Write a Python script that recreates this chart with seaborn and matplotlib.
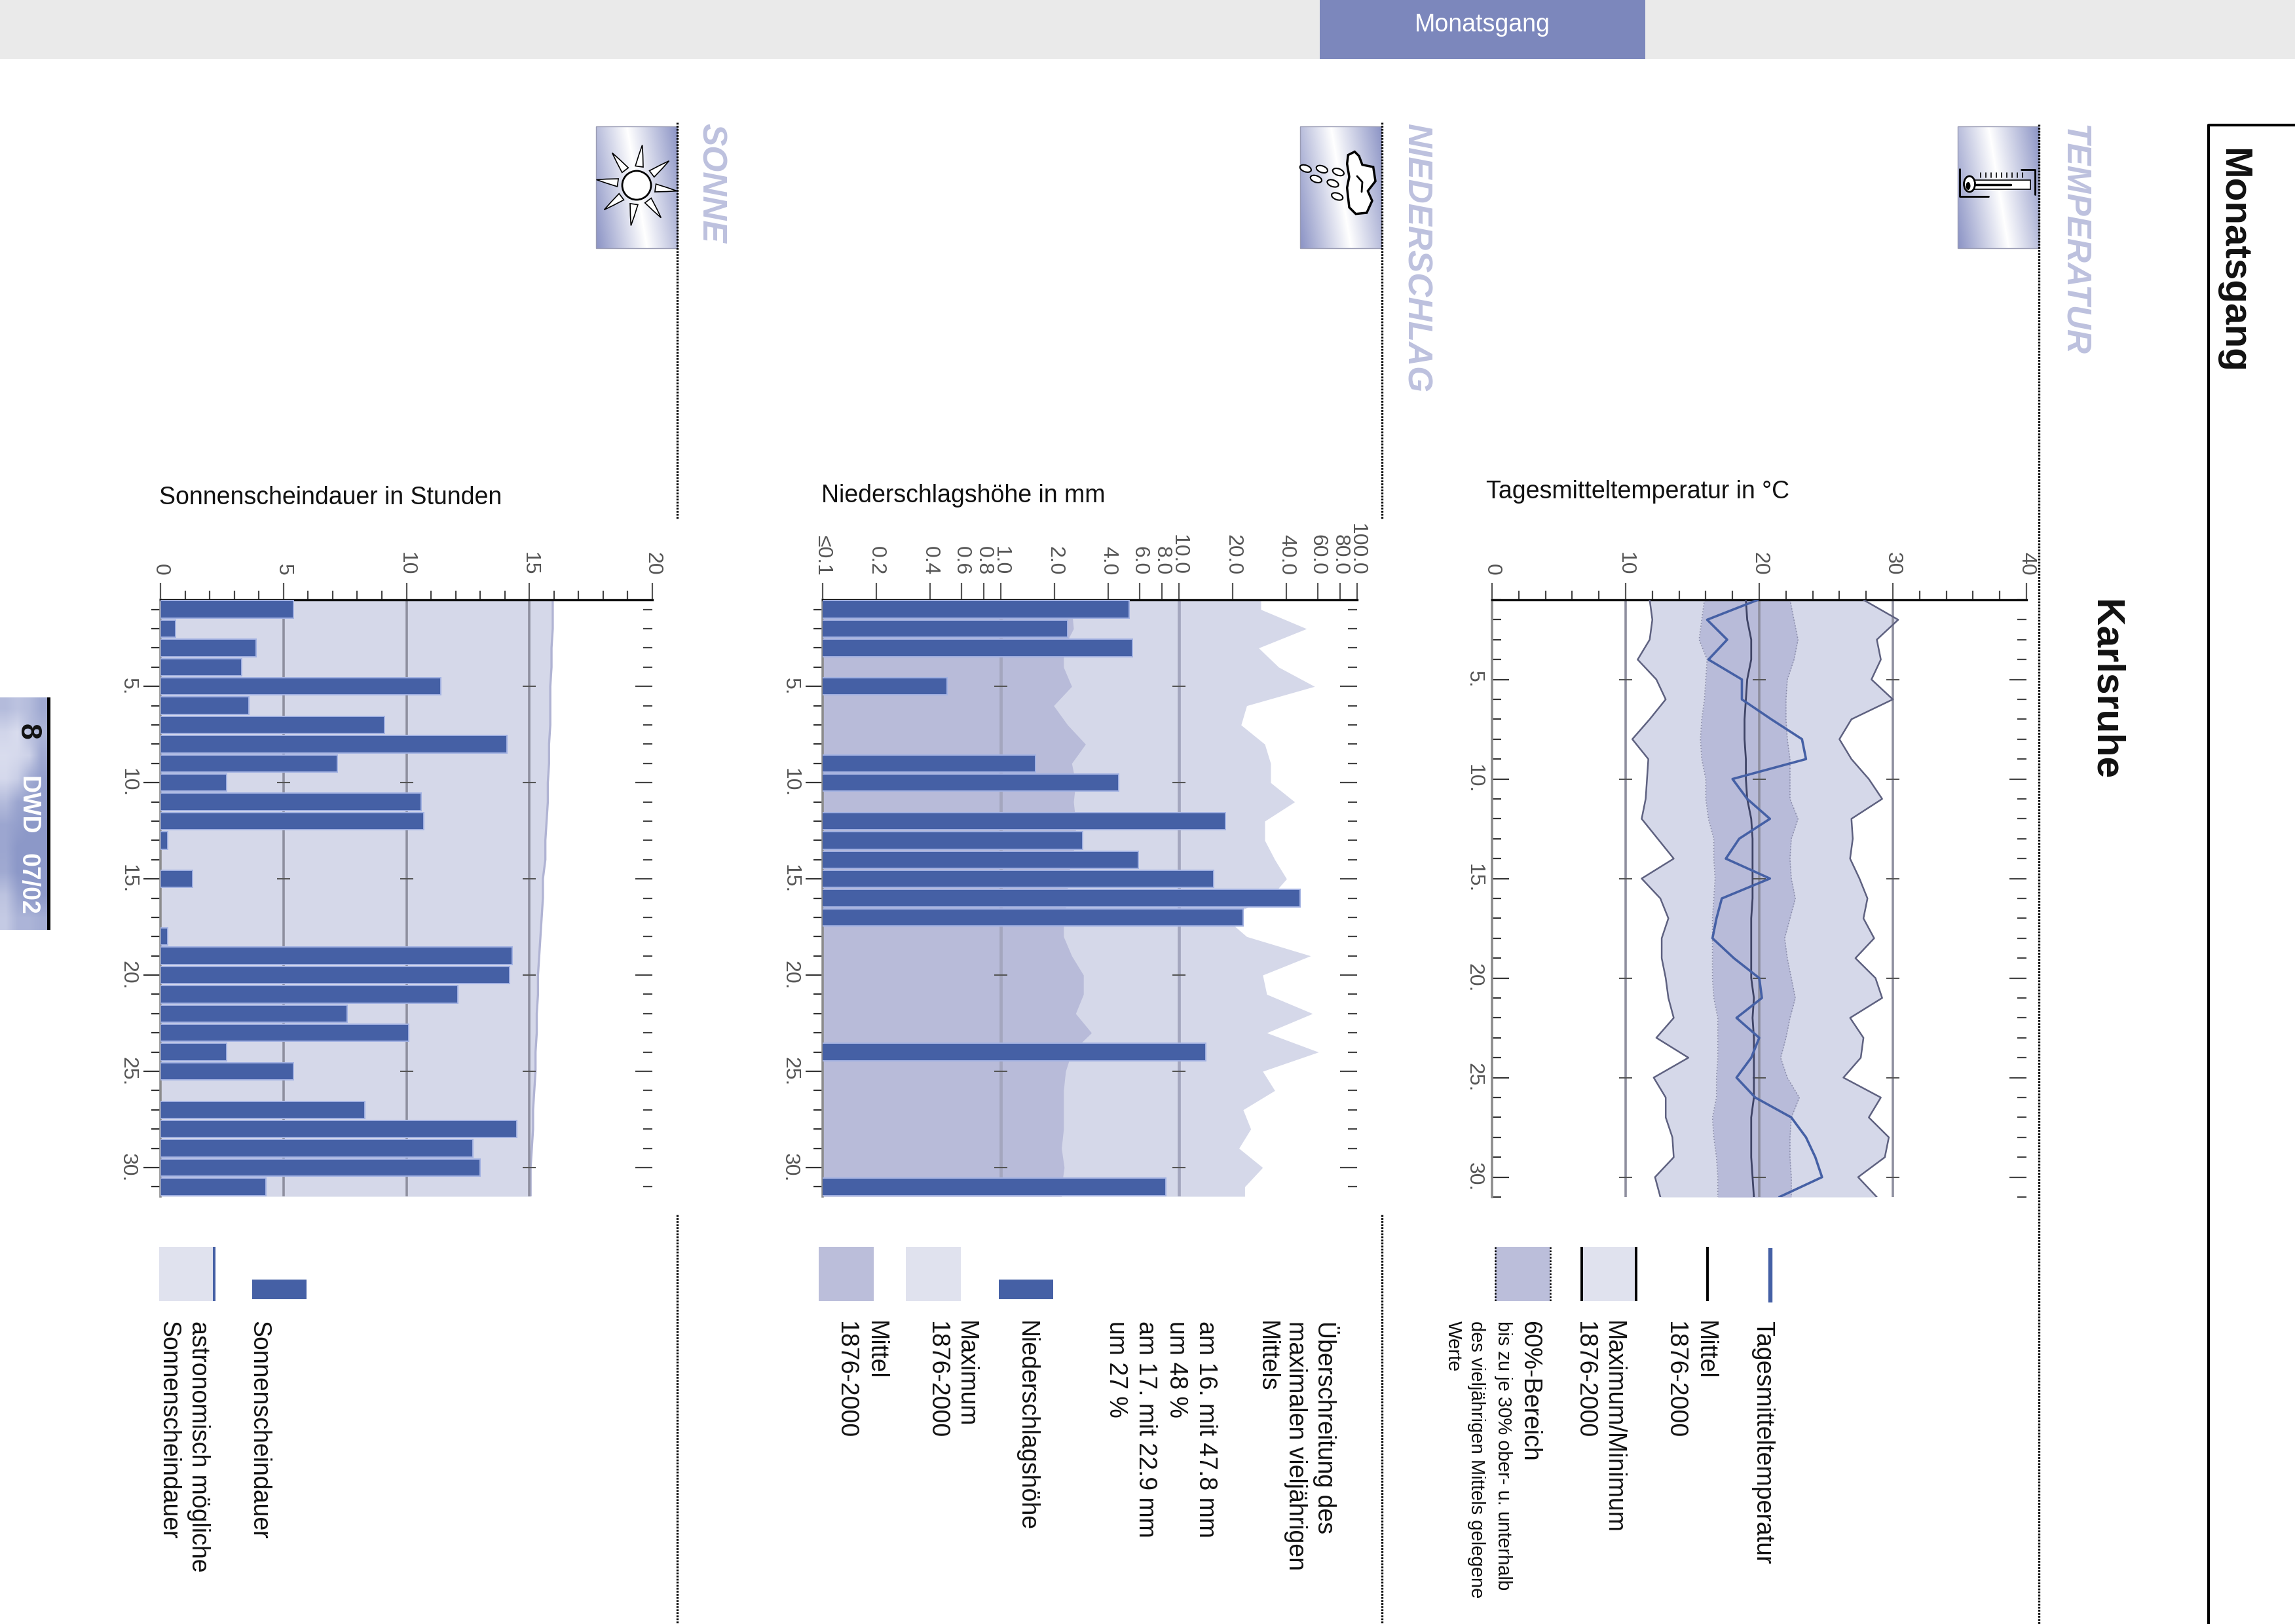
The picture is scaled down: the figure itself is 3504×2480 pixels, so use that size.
import numpy as np
import pandas as pd
import matplotlib
matplotlib.use('Agg')
import matplotlib.pyplot as plt
from matplotlib.colors import LinearSegmentedColormap
from matplotlib.patches import Circle, Ellipse, Polygon, Rectangle
import seaborn as sns

W, H = 3504, 2480

days = list(range(1, 32))
day_ticks = [5, 10, 15, 20, 25, 30]
day_labels = ['5.', '10.', '15.', '20.', '25.', '30.']

temp_max = [27.8, 30.4, 28.8, 29.1, 28.4, 30.0, 26.9, 26.0, 26.9, 28.2, 29.2, 26.9, 27.0, 26.8, 27.5, 28.1,
            27.8, 28.6, 27.2, 28.7, 29.2, 26.8, 27.8, 27.6, 26.3, 29.1, 28.2, 29.7, 29.4, 27.4, 28.8]
temp_min = [11.8, 12.0, 11.8, 10.9, 12.3, 13.0, 11.8, 10.5, 11.7, 11.6, 11.5, 11.2, 12.4, 13.6, 11.2, 12.6,
            13.2, 12.7, 12.7, 13.0, 13.2, 13.6, 12.3, 14.7, 12.1, 13.0, 13.0, 13.5, 13.6, 12.2, 12.6]
temp_low = [15.9, 15.7, 15.5, 16.1, 16.0, 15.9, 15.7, 15.6, 15.7, 16.0, 16.0, 16.2, 16.6, 16.6, 16.7, 16.6,
            16.5, 16.5, 16.5, 16.5, 16.6, 16.9, 16.9, 16.9, 16.8, 16.8, 16.5, 16.6, 16.8, 16.9, 16.9]
temp_high = [22.3, 22.6, 22.9, 22.6, 22.1, 22.0, 22.0, 22.1, 22.3, 22.3, 22.3, 22.9, 22.4, 22.3, 22.4, 22.7,
             22.3, 21.9, 22.1, 22.4, 22.7, 22.3, 22.0, 21.6, 22.1, 23.0, 22.4, 22.3, 22.3, 22.4, 22.4]
temp_mean = [19.0, 19.1, 19.4, 19.4, 19.1, 19.0, 18.9, 18.9, 19.0, 19.0, 19.1, 19.4, 19.5, 19.5, 19.5, 19.5,
             19.4, 19.4, 19.4, 19.4, 19.6, 19.5, 19.6, 19.6, 19.6, 19.6, 19.4, 19.4, 19.4, 19.5, 19.6]
temp_day = [19.9, 16.1, 17.6, 16.2, 18.7, 18.7, 20.9, 23.2, 23.5, 18.0, 19.1, 20.8, 18.5, 17.5, 20.8, 17.2,
            16.8, 16.5, 18.1, 20.0, 20.2, 18.3, 20.0, 19.4, 18.3, 19.7, 22.4, 23.5, 24.2, 24.7, 21.5]

rain = [5.27, 2.37, 5.46, 0, 0.498, 0, 0, 0, 1.57, 4.58, 0, 18.3, 2.88, 5.90, 15.7, 47.8,
        22.9, 0, 0, 0, 0, 0, 0, 14.2, 0, 0, 0, 0, 0, 0, 8.41]
rain_max = [28.8, 52.0, 28.0, 36.3, 57.7, 24.0, 22.3, 30.3, 32.7, 32.7, 44.6, 30.3, 30.3, 34.5, 40.2, 32.3,
            18.0, 24.0, 54.8, 29.5, 31.1, 56.2, 31.1, 60.7, 29.5, 34.5, 22.9, 25.3, 21.7, 29.5, 23.4]
rain_mean = [2.5, 2.56, 2.25, 2.25, 2.5, 1.98, 2.37, 2.99, 2.5, 2.63, 2.56, 2.63, 2.63, 2.5, 2.37, 2.37,
             2.25, 2.25, 2.5, 2.91, 2.91, 2.63, 3.23, 2.5, 2.31, 2.25, 2.25, 2.25, 2.19, 2.27, 2.19]
rain_ticks = [0.1, 0.2, 0.4, 0.6, 0.8, 1, 2, 4, 6, 8, 10, 20, 40, 60, 80, 100]
rain_labels = ['≤0.1', '0.2', '0.4', '0.6', '0.8', '1.0', '2.0', '4.0', '6.0', '8.0',
               '10.0', '20.0', '40.0', '60.0', '80.0', '100.0']

sun = [5.4, 0.6, 3.9, 3.3, 11.4, 3.6, 9.1, 14.1, 7.2, 2.7, 10.6, 10.7, 0.3, 0, 1.3, 0,
       0, 0.3, 14.3, 14.2, 12.1, 7.6, 10.1, 2.7, 5.4, 0, 8.3, 14.5, 12.7, 13.0, 4.3]
sun_astro = [15.95, 15.95, 15.9, 15.9, 15.85, 15.85, 15.85, 15.8, 15.8, 15.75, 15.75, 15.7, 15.65, 15.65, 15.55, 15.55,
             15.5, 15.45, 15.4, 15.35, 15.35, 15.3, 15.3, 15.25, 15.25, 15.2, 15.15, 15.15, 15.1, 15.05, 15.05]

BLUE = '#4560A5'
HALO = '#A3B2E2'
LIGHT = '#D5D8E9'
MID = '#B8BBD9'
SWATCH_LIGHT = '#E0E2EE'
SWATCH_MID = '#BBBEDA'
HEAD = '#BDC1DE'
GRID = '#8E8F9F'
TICK_TXT = '#555555'

sns.set_theme(style='white')
plt.rcParams['font.family'] = ['Liberation Sans', 'DejaVu Sans']


def px_axes(x0, x1, y0, y1):
    return fig.add_axes([x0 / W, 1 - y1 / H, (x1 - x0) / W, (y1 - y0) / H], facecolor='none')


def pad_ends(values, lo, hi):
    # fills run on to the frame at both ends
    return np.r_[lo, days, hi], np.r_[values[0], values, values[-1]]


def style_chart(ax, lo, hi, xticks, xlabels, grid, ticks_in, minor=None, grid_color=GRID, grid_lw=2.6):
    ax.set_ylim(hi, lo)
    ax.xaxis.tick_top()
    ax.set_xticks(xticks)
    ax.set_xticklabels(xlabels)
    if minor is not None:
        ax.set_xticks(minor, minor=True)
    else:
        ax.xaxis.set_minor_locator(matplotlib.ticker.NullLocator())
    ax.set_yticks(day_ticks)
    ax.set_yticklabels(day_labels)
    ax.set_yticks(days, minor=True)
    ax.set_xlabel('')
    ax.set_ylabel('')
    ax.grid(False)
    for name in ['bottom', 'right']:
        ax.spines[name].set_visible(False)
    ax.spines['top'].set_linewidth(2.4)
    ax.spines['top'].set_color('#111111')
    ax.spines['left'].set_linewidth(2.6)
    ax.spines['left'].set_color('#8C8C8C')
    ax.spines['left'].set_zorder(2.5)
    ax.tick_params(axis='x', which='major', top=True, bottom=False, length=19, width=1.6, color='#555555',
                   pad=8, labelsize=23, labelcolor=TICK_TXT)
    ax.tick_params(axis='x', which='minor', top=True, bottom=False, length=10, width=1.6, color='#444444')
    direction = 'in' if ticks_in else 'out'
    ax.tick_params(axis='y', which='major', left=True, length=19, width=1.6, color='#333333', direction=direction,
                   pad=9 if ticks_in else 6, labelsize=23, labelcolor=TICK_TXT)
    ax.tick_params(axis='y', which='minor', left=True, length=10, width=1.6, color='#333333', direction=direction)
    plt.setp(ax.get_xticklabels(), rotation=-90, ha='center', va='bottom')
    plt.setp(ax.get_yticklabels(), rotation=-90, ha='right', va='center')

    right = ax.secondary_yaxis('right')
    right.set_yticks(day_ticks)
    right.set_yticklabels([])
    right.set_yticks(days, minor=True)
    right.spines['right'].set_visible(False)
    right.tick_params(axis='y', which='major', direction='in', length=19, width=1.6, color='#444444')
    right.tick_params(axis='y', which='minor', direction='in', length=10, width=1.6, color='#444444')

    for g in grid:
        ax.axvline(g, color=grid_color, lw=grid_lw, zorder=2)
        ax.plot([g] * len(day_ticks), day_ticks, ls='', marker='_', ms=15, mew=1.5, color='#555555', zorder=2.2)


fig = plt.figure(figsize=(W / 100, H / 100), dpi=100, facecolor='white')

page = fig.add_axes([0, 0, 1, 1], zorder=0)
page.set_xlim(0, W)
page.set_ylim(H, 0)
page.axis('off')


def rtext(x, y, s, size=27, color='#111111', **kw):
    page.text(x - 4, y, s, rotation=-90, ha='center', va='top', fontsize=size, color=color, **kw)


def box(x0, x1, y0, y1, color, **kw):
    page.add_patch(Rectangle((x0, y0), x1 - x0, y1 - y0, facecolor=color, edgecolor='none', **kw))


# top band and page frame
box(0, W, 0, 90, '#EAEAEA')
box(2015, 2512, 0, 90, '#7C87BC')
page.text(2263, 38, 'Monatsgang', ha='center', va='center', color='white', fontsize=27)
page.plot([W, 3372, 3372], [191, 191, H], color='black', lw=3)
rtext(3413, 226, 'Monatsgang', size=42, weight='bold')
rtext(3218, 916, 'Karlsruhe', size=42.5, weight='bold')

# section heads
rtext(3170, 190, 'TEMPERATUR', size=37, color=HEAD, style='italic', weight='bold')
rtext(2166, 188, 'NIEDERSCHLAG', size=37, color=HEAD, style='italic', weight='bold')
rtext(1089, 188, 'SONNE', size=37, color=HEAD, style='italic', weight='bold')

# dotted rules
for x, segs in [(3113, [(190, H)]), (2110, [(187, 793), (1855, H)]), (1034, [(187, 793), (1855, H)])]:
    for y0, y1 in segs:
        page.plot([x, x], [y0, y1], color='black', lw=2.4, ls=(0, (0.8, 0.6)))

# icon backgrounds
icon_cmap = LinearSegmentedColormap.from_list('icon', ['#FFFFFF', '#8D95C6'])
uu, vv = np.meshgrid(np.linspace(0, 1, 124), np.linspace(0, 1, 186))
icon_shade = np.clip(np.abs(uu - (0.38 + 0.25 * vv)) / 0.62, 0, 1)
for x0 in [2989, 1985, 910]:
    page.imshow(icon_shade, extent=(x0, x0 + 124, 379, 193), cmap=icon_cmap, aspect='auto', vmin=0, vmax=1)
    page.add_patch(Rectangle((x0, 193), 124, 186, facecolor='none', edgecolor='#9A9CB4', lw=1))
page.set_xlim(0, W)
page.set_ylim(H, 0)

# thermometer
page.add_patch(Rectangle((3012, 275), 88, 14, facecolor='white', edgecolor='black', lw=1.2))
page.plot([3016, 3070], [282, 282], color='black', lw=2.5)
page.add_patch(Ellipse((3007, 281), 17, 24, facecolor='white', edgecolor='black', lw=2))
page.add_patch(Ellipse((3005, 284), 7, 12, facecolor='black', edgecolor='none'))
for x in range(3024, 3092, 8):
    page.plot([x, x], [264, 271], color='black', lw=1.2)
page.plot([2992, 2992, 3036], [258, 300, 300], color='black', lw=2)
page.plot([3086, 3107, 3107], [259, 259, 297], color='black', lw=2)

# cloud and drops
cloud = [(295, 200), (325, 185), (345, 205), (360, 245), (410, 255), (420, 320), (385, 365), (405, 410),
         (380, 465), (330, 470), (300, 440), (290, 350), (300, 300), (290, 240)]
page.add_patch(Polygon([(1960 + a / 3, 170 + b / 3) for a, b in cloud], facecolor='white', edgecolor='black', lw=2.5))
page.plot([2072, 2080, 2079], [269, 278, 293], color='black', lw=2)
for a, b in [(100, 262), (175, 265), (250, 278), (148, 310), (225, 330), (245, 390)]:
    page.add_patch(Ellipse((1960 + a / 3, 170 + b / 3), 18, 10, angle=20, facecolor='white', edgecolor='black', lw=1.5))

# sun
page.add_patch(Circle((972, 283), 22, facecolor='white', edgecolor='black', lw=2))
for ang in np.deg2rad(np.arange(0, 360, 45) + 8):
    c, s = np.cos(ang), np.sin(ang)
    page.add_patch(Polygon([(972 + 29 * c - 6 * s, 283 + 29 * s + 6 * c), (972 + 47 * c - 3 * s, 283 + 47 * s + 3 * c),
                            (972 + 62 * c, 283 + 62 * s), (972 + 47 * c + 3 * s, 283 + 47 * s - 3 * c),
                            (972 + 29 * c + 6 * s, 283 + 29 * s - 6 * c)],
                           facecolor='white', edgecolor='black', lw=1.2))

# page tab
tab_cells = [[0.5, 0.4, 0.5, 0.75], [0.15, 0.05, 0.45, 0.6], [0.05, 0.1, 0.2, 0.75], [0.1, 0.25, 0.7, 0.9],
             [0.5, 0.8, 0.9, 0.95], [0.8, 0.9, 1, 1], [0.8, 1, 1, 1], [0.75, 1, 1, 1], [0.4, 0.8, 1, 1], [0.3, 0.6, 0.6, 0.7]]
tab_cmap = LinearSegmentedColormap.from_list('tab', ['#DDE0F0', '#8C98C8'])
page.imshow(tab_cells, extent=(0, 72, 1420, 1065), cmap=tab_cmap, aspect='auto', vmin=0, vmax=1, interpolation='bilinear')
page.set_xlim(0, W)
page.set_ylim(H, 0)
box(72, 77, 1065, 1420, 'black')
rtext(46, 1105, '8', size=32, weight='bold')
rtext(46, 1185, 'DWD', size=27, color='white', weight='bold')
rtext(46, 1303, '07/02', size=27, color='white', weight='bold')

# chart titles
page.text(2269, 751, 'Tagesmitteltemperatur in °C', va='center', fontsize=27, color='#111111')
page.text(1254, 757, 'Niederschlagshöhe in mm', va='center', fontsize=27, color='#111111')
page.text(243, 760, 'Sonnenscheindauer in Stunden', va='center', fontsize=27, color='#111111')

# legend, temperature
page.plot([2703, 2703], [1906, 1989], color=BLUE, lw=4.6, solid_capstyle='butt')
page.plot([2607, 2607], [1904, 1987], color='black', lw=2.8, solid_capstyle='butt')
box(2415, 2498, 1904, 1987, SWATCH_LIGHT)
for x in [2415, 2498]:
    page.plot([x, x], [1904, 1987], color='black', lw=2.8, solid_capstyle='butt')
box(2283, 2367, 1904, 1987, SWATCH_MID)
for x in [2283, 2367]:
    page.plot([x, x], [1904, 1987], color='black', lw=1.8, ls=(0, (1, 1)))
rtext(2695, 2017, 'Tagesmitteltemperatur')
rtext(2607, 2017, 'Mittel')
rtext(2561, 2017, '1876-2000')
rtext(2467, 2017, 'Maximum/Minimum')
rtext(2423, 2017, '1876-2000')
rtext(2339, 2017, '60%-Bereich')
rtext(2299, 2017, 'bis zu je 30% ober- u. unterhalb', size=21)
rtext(2258, 2017, 'des vieljährigen Mittels gelegene', size=21)
rtext(2223, 2017, 'Werte', size=21)

# legend, precipitation
for x, s in [(2029, 'Überschreitung des'), (1982, 'maximalen vieljährigen'), (1938, 'Mittels'),
             (1845, 'am 16. mit 47.8 mm'), (1800, 'um 48 %'), (1753, 'am 17. mit 22.9 mm'), (1708, 'um 27 %'),
             (1571, 'Niederschlagshöhe'), (1478, 'Maximum'), (1434, '1876-2000'), (1341, 'Mittel'), (1295, '1876-2000')]:
    rtext(x, 2017, s)
box(1525, 1608, 1954, 1984, BLUE)
box(1383, 1467, 1904, 1987, SWATCH_LIGHT)
box(1250, 1334, 1904, 1987, SWATCH_MID)

# legend, sunshine
box(385, 468, 1954, 1984, BLUE)
box(243, 325, 1904, 1987, SWATCH_LIGHT)
box(325, 329, 1904, 1987, BLUE)
rtext(399, 2017, 'Sonnenscheindauer')
rtext(307, 2017, 'astronomisch mögliche')
rtext(261, 2017, 'Sonnenscheindauer')

# temperature chart
temp_df = pd.DataFrame({'day': days, 'tmax': temp_max, 'tmin': temp_min, 'low': temp_low,
                        'high': temp_high, 'mean': temp_mean, 'today': temp_day})
ax = px_axes(2278, 3094, 916, 1828)
ax.fill_betweenx(days, temp_min, temp_max, color=LIGHT, lw=0, zorder=1)
ax.fill_betweenx(days, temp_low, temp_high, color=MID, lw=0, zorder=1.1)
sns.lineplot(data=temp_df, x='low', y='day', orient='y', sort=False, estimator=None, color='#8A8CA8', lw=1.2, ls=':', ax=ax, zorder=1.5)
sns.lineplot(data=temp_df, x='high', y='day', orient='y', sort=False, estimator=None, color='#8A8CA8', lw=1.2, ls=':', ax=ax, zorder=1.5)
sns.lineplot(data=temp_df, x='tmax', y='day', orient='y', sort=False, estimator=None, color='#5E6180', lw=1.8, ax=ax, zorder=3)
sns.lineplot(data=temp_df, x='tmin', y='day', orient='y', sort=False, estimator=None, color='#5E6180', lw=1.8, ax=ax, zorder=3)
sns.lineplot(data=temp_df, x='mean', y='day', orient='y', sort=False, estimator=None, color='#3F4466', lw=2, ax=ax, zorder=3)
sns.lineplot(data=temp_df, x='today', y='day', orient='y', sort=False, estimator=None, color=BLUE, lw=2.6, ax=ax, zorder=4)
ax.set_xlim(0, 40)
style_chart(ax, 1, 31, [0, 10, 20, 30, 40], ['0', '10', '20', '30', '40'], [10, 20, 30], True, minor=list(range(0, 41, 2)))

# precipitation chart
rain_df = pd.DataFrame({'day': days, 'mm': rain})
rain_df = rain_df[rain_df['mm'] > 0]
ax = px_axes(1256, 2072, 916, 1827)
yy, vals = pad_ends(rain_max, 0.5, 31.5)
ax.fill_betweenx(yy, 0.1, vals, color=LIGHT, lw=0, zorder=1)
yy, vals = pad_ends(rain_mean, 0.5, 31.5)
ax.fill_betweenx(yy, 0.1, vals, color=MID, lw=0, zorder=1.1)
sns.barplot(data=rain_df, x='mm', y='day', orient='y', native_scale=True, log_scale=(True, False), color=BLUE, saturation=1,
            width=0.9, edgecolor=HALO, linewidth=1.4, ax=ax, zorder=3)
ax.set_xscale('log')
ax.set_xlim(0.1, 100)
style_chart(ax, 0.5, 31.5, rain_ticks, rain_labels, [1, 10], False, grid_color='#A4A6BE', grid_lw=3.4)

# sunshine chart
sun_df = pd.DataFrame({'day': days, 'h': sun})
sun_df = sun_df[sun_df['h'] > 0]
ax = px_axes(245, 996, 916, 1827)
yy, vals = pad_ends(sun_astro, 0.5, 31.5)
ax.fill_betweenx(yy, 0, vals, color=LIGHT, lw=0, zorder=1)
ax.plot(vals, yy, color='#B0B3D3', lw=2.4, zorder=1.2)
sns.barplot(data=sun_df, x='h', y='day', orient='y', native_scale=True, color=BLUE, saturation=1,
            width=0.9, edgecolor=HALO, linewidth=1.4, ax=ax, zorder=3)
ax.set_xlim(0, 20)
style_chart(ax, 0.5, 31.5, [0, 5, 10, 15, 20], ['0', '5', '10', '15', '20'], [5, 10, 15], False, minor=list(range(0, 21)))

fig.savefig('out.png', dpi=100)
